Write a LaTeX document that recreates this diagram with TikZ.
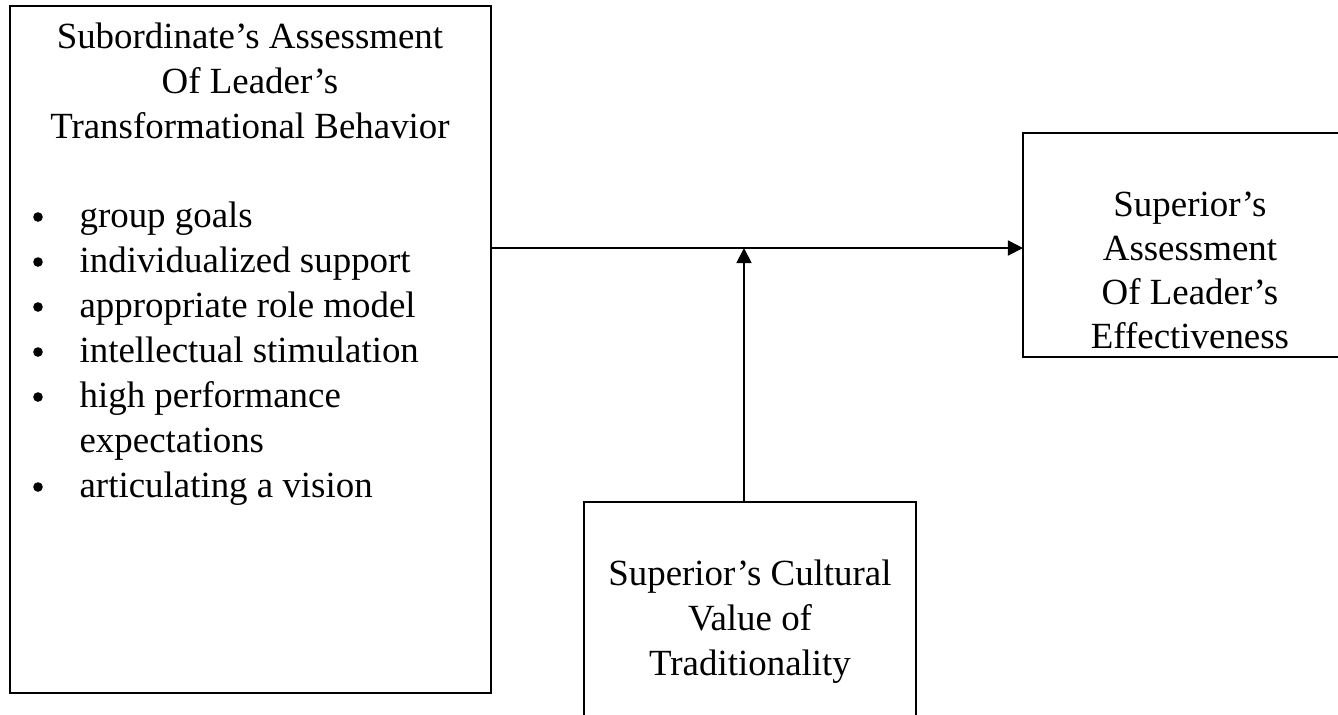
\documentclass[tikz,border=0pt]{standalone}
\usepackage{fontspec}
\setmainfont{Liberation Serif}
\usetikzlibrary{arrows.meta}
\begin{document}
\begin{tikzpicture}[x=0.3333pt,y=-0.3333pt,
  box/.style={draw,line width=0.65pt,inner sep=0pt,outer sep=0pt},
  txt/.style={anchor=base,inner sep=0pt,font=\fontsize{12.3}{15}\selectfont},
  itemtxt/.style={anchor=base west,inner sep=0pt,font=\fontsize{12.3}{15}\selectfont},
  bulletdot/.style={circle,fill,inner sep=0pt,minimum size=3.2pt},
  conn/.style={line width=0.6pt,-{Triangle[length=5pt,width=5pt]}}]
\useasboundingbox (0,0) rectangle (1338,714);
\clip (0,0) rectangle (1338,714);
% boxes
\node[box,minimum width=160.33pt,minimum height=229pt] (lbox) at (250.5,349.5) {};
\node[box,minimum width=111.33pt,minimum height=74.67pt] (rbox) at (1190,245) {};
\node[box,minimum width=110.67pt,minimum height=96pt] (bbox) at (750,646) {};
% left box title
\node[txt] (l1) at (250,48) {Subordinate’s Assessment};
\node[txt] (l2) at (250,93) {Of Leader’s};
\node[txt] (l3) at (250,138) {Transformational Behavior};
% bullets
\foreach \y/\t [count=\i] in {227/group goals,272/individualized support,317/appropriate role model,362/intellectual stimulation,407/high performance,497/articulating a vision}{
  \node[bulletdot] (bd\i) at (38,\y-10) {};
  \node[itemtxt] (bt\i) at (79,\y) {\t};
}
\node[itemtxt] (bt5b) at (79,452) {expectations};
% right box text
\node[txt] (r1) at (1190,216) {Superior’s};
\node[txt] (r2) at (1190,260) {Assessment};
\node[txt] (r3) at (1190,304) {Of Leader’s};
\node[txt] (r4) at (1190,348) {Effectiveness};
% bottom box text
\node[txt] (c1) at (750,585) {Superior’s Cultural};
\node[txt] (c2) at (750,630) {Value of};
\node[txt] (c3) at (750,675) {Traditionality};
% connectors
\coordinate (j) at (744,248);
\draw[conn] (lbox.east |- j) -- (rbox.west |- j);
\draw[conn] (j |- bbox.north) -- (j);
\end{tikzpicture}
\end{document}
